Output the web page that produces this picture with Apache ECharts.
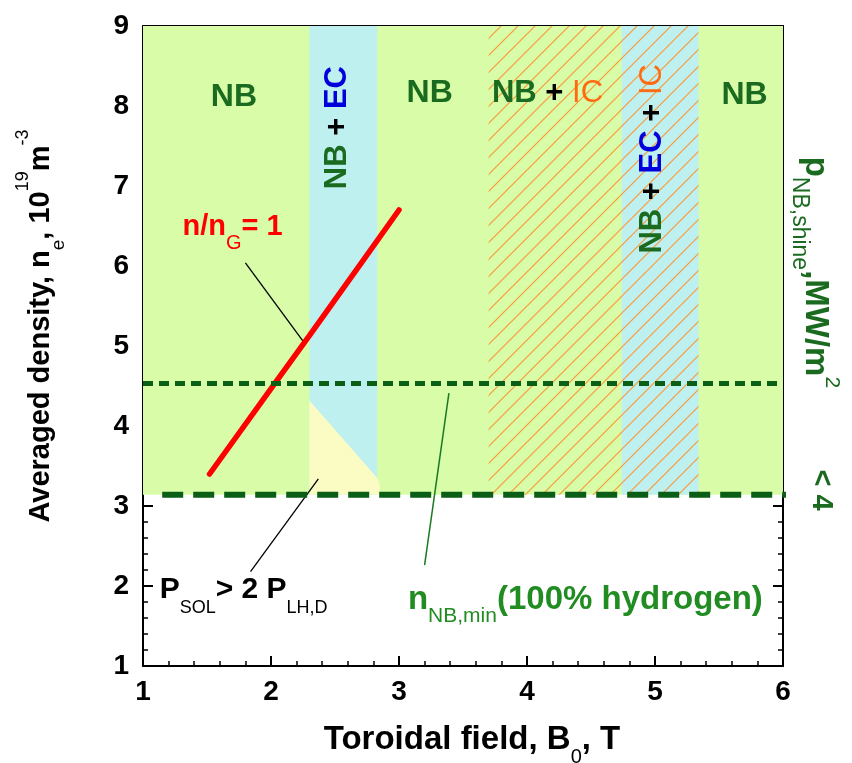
<!DOCTYPE html>
<html><head><meta charset="utf-8">
<script src="https://cdn.jsdelivr.net/npm/echarts@6/dist/echarts.min.js"></script>
<style>html,body{margin:0;padding:0;background:#fff}#c{width:852px;height:763px}</style>
</head><body><div id="c"></div>
<script>
// ---- data ----
const xRange = [1, 6];
const yRange = [1, 9];
const greenRegion = [1, 6, 3.14, 9];          // x0,x1,y0,y1 : NB accessible region
const ecBands = [[2.30, 2.83, 3.14, 9], [4.74, 5.34, 3.14, 9]];
const icBand = [3.70, 5.34, 3.14, 9];
const lhTriangle = [[2.30, 4.32], [2.83, 3.35], [2.85, 3.26], [2.85, 3.14], [2.30, 3.14]];
const greenwaldLine = [[1.52, 3.40], [2.02, 4.51], [2.30, 5.13], [2.72, 6.07], [3.00, 6.70]];
const shineLimitLine = [[1.0, 4.53], [6.0, 4.53]];
const nbMinLine = [[1.15, 3.14], [6.07, 3.14]];
const leaderGreenwald = [[1.80, 6.04], [2.25, 5.06]];
const leaderPsol = [[1.84, 2.18], [2.37, 3.34]];
const leaderNbMin = [[3.20, 2.26], [3.39, 4.41]];
// annotation anchors (data coords)
const nbLabels = [[1.71, 8.11], [3.24, 8.16], [5.70, 8.14]];
const nbIcLabel = [4.16, 8.16];
const nbEcLabel = [2.52, 7.73];
const nbEcIcLabel = [4.98, 7.34];
const greenwaldLabel = [1.70, 6.49];
const psolLabel = [1.13, 1.95];
const nbMinLabel = [3.07, 1.83];
const shineLabel = [6.25, 5.92];
const shineValueLabel = [6.30, 3.20];

const DG = '#1a6b1f', LG = '#218c21', BL = '#0000dd', OR = '#ff6a10';
const FF = '"Liberation Sans", Arial, sans-serif';

function hatch() {
  const s = 17, c = document.createElement('canvas');
  c.width = s; c.height = s;
  const g = c.getContext('2d');
  g.strokeStyle = '#f79a3a'; g.lineWidth = 1.2;
  g.beginPath();
  g.moveTo(0, s); g.lineTo(s, 0);
  g.moveTo(-2, 2); g.lineTo(2, -2);
  g.moveTo(s - 2, s + 2); g.lineTo(s + 2, s - 2);
  g.stroke();
  return { image: c, repeat: 'repeat' };
}

function rectSeries(rects, fill, z) {
  return {
    type: 'custom', z: z, silent: true, clip: true,
    data: rects,
    encode: { x: [0, 1], y: [2, 3] },
    renderItem: function (p, api) {
      const a = api.coord([api.value(0), api.value(3)]);
      const b = api.coord([api.value(1), api.value(2)]);
      return { type: 'rect', shape: { x: a[0], y: a[1], width: b[0] - a[0], height: b[1] - a[1] }, style: { fill: fill } };
    }
  };
}

const axisCommon = {
  type: 'value', interval: 1,
  axisLine: { show: true, onZero: false, lineStyle: { color: '#000', width: 2 } },
  axisTick: { show: true, inside: true, length: 10, lineStyle: { color: '#000', width: 2 } },
  minorTick: { show: true, splitNumber: 5, length: 5, lineStyle: { color: '#000', width: 1.5 } },
  splitLine: { show: false }
};
const lbl = { fontSize: 28, fontWeight: 'bold', color: '#000', fontFamily: FF };

const chart = echarts.init(document.getElementById('c'), null, { renderer: 'canvas' });
chart.setOption({
  animation: false,
  backgroundColor: '#fff',
  grid: { left: 143, right: 69, top: 26, bottom: 97 },
  xAxis: [
    Object.assign({}, axisCommon, { min: xRange[0], max: xRange[1], position: 'bottom', axisLabel: Object.assign({ margin: 12 }, lbl) }),
    Object.assign({}, axisCommon, { min: xRange[0], max: xRange[1], position: 'top', axisLabel: { show: false } })
  ],
  yAxis: [
    Object.assign({}, axisCommon, { min: yRange[0], max: yRange[1], position: 'left', axisLabel: Object.assign({ margin: 14 }, lbl) }),
    Object.assign({}, axisCommon, { min: yRange[0], max: yRange[1], position: 'right', axisLabel: { show: false } })
  ],
  series: [
    rectSeries([greenRegion], '#d8fca8', 1),
    rectSeries(ecBands, '#bff0f0', 2),
    {
      type: 'custom', z: 3, silent: true, data: [0],
      renderItem: function (p, api) {
        return { type: 'polygon', shape: { points: lhTriangle.map(function (q) { return api.coord(q); }) }, style: { fill: '#fbfcc4' } };
      }
    },
    rectSeries([icBand], hatch(), 4),
    { type: 'line', z: 5, data: leaderGreenwald, symbol: 'none', lineStyle: { color: '#000', width: 1.3 } },
    { type: 'line', z: 5, data: leaderPsol, symbol: 'none', lineStyle: { color: '#000', width: 1.3 } },
    { type: 'line', z: 5, data: leaderNbMin, symbol: 'none', lineStyle: { color: '#1a7a1f', width: 1.5 } },
    { type: 'line', z: 6, data: greenwaldLine, symbol: 'none', lineStyle: { color: '#ff0000', width: 5.5, cap: 'round' } },
    { type: 'line', z: 7, data: shineLimitLine, symbol: 'none', lineStyle: { color: '#0b5e16', width: 5, type: [10, 6] } },
    { type: 'line', z: 7, data: nbMinLine, symbol: 'none', clip: false, lineStyle: { color: '#0b5e16', width: 6, type: [21, 10] } }
  ]
});

function px(p) { return chart.convertToPixel({ xAxisIndex: 0, yAxisIndex: 0 }, p); }
function txt(p, text, rich, rot, align) {
  return {
    type: 'text', x: p[0], y: p[1], rotation: rot || 0, z: 100, silent: true,
    style: { text: text, rich: rich, align: align || 'center', verticalAlign: 'middle', textAlign: align || 'center', textVerticalAlign: 'middle', font: 'bold 28px ' + FF }
  };
}
function st(size, color, weight, va, lh) {
  return { fontSize: size, fontFamily: FF, fontWeight: weight || 'bold', fill: color, color: color, verticalAlign: va || 'middle', lineHeight: lh || size };
}

const L = 54;
const g = [];
nbLabels.forEach(function (q) {
  g.push(txt(px(q), '{g|NB}', { g: st(32, DG) }));
});
g.push(txt(px(nbIcLabel), '{g|NB}{k| + }{o|IC}', { g: st(31, DG), k: st(31, '#000'), o: st(31, OR, 'normal') }));
g.push(txt(px(nbEcLabel), '{g|NB}{k| + }{b|EC}', { g: st(31, DG), k: st(31, '#000'), b: st(31, BL) }, Math.PI / 2));
g.push(txt(px(nbEcIcLabel), '{g|NB}{k| + }{b|EC}{k| + }{o|IC}', { g: st(31, DG), k: st(31, '#000'), b: st(31, BL), o: st(31, OR, 'normal') }, Math.PI / 2));
g.push(txt(px(greenwaldLabel), '{m|n/n}{s|G}{m|= 1}', { m: st(29, '#ff0000', 'bold', 'middle', L), s: st(20, '#ff0000', 'normal', 'bottom', 18) }));
g.push(txt(px(psolLabel), '{m|P}{s|SOL}{m|> 2 P}{s|LH,D}', { m: st(30, '#000', 'bold', 'middle', L), s: st(18, '#000', 'normal', 'bottom', 16) }, 0, 'left'));
g.push(txt(px(nbMinLabel), '{m|n}{s|NB,min}{m|(100% hydrogen)}', { m: st(33, LG, 'bold', 'middle', L), s: st(21, LG, 'normal', 'bottom', 16) }, 0, 'left'));
g.push(txt(px(shineLabel), '{m|p}{s|NB,shine}{m|,MW/m}{u|2}', { m: st(33, DG, 'bold', 'middle', L), s: st(23, DG, 'normal', 'bottom', 16), u: st(21, DG, 'normal', 'top', 16) }, -Math.PI / 2));
g.push(txt(px(shineValueLabel), '{m|< 4}', { m: st(29, DG) }, -Math.PI / 2));
// axis titles
g.push(txt([472, 740], '{m|Toroidal field, B}{s|0}{m|, T}', { m: st(33, '#000', 'bold', 'middle', L), s: st(20, '#000', 'normal', 'bottom', 16) }));
g.push(txt([41, 326], '{m|Averaged density, n}{s|e}{m|, 10}{u|19}{m|m}{u|-3}', { m: st(29, '#000', 'bold', 'middle', L), s: st(19, '#000', 'normal', 'bottom', 18), u: st(18, '#000', 'normal', 'top', 22) }, Math.PI / 2));
chart.setOption({ graphic: { elements: g } });
</script>
</body></html>
